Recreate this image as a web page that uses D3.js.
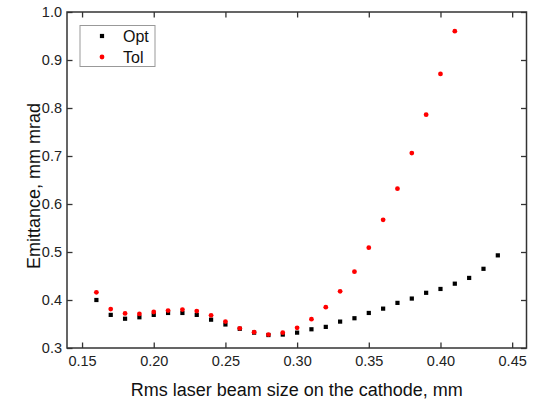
<!DOCTYPE html>
<html><head><meta charset="utf-8">
<script src="https://cdn.jsdelivr.net/npm/d3@7"></script>
<style>body{margin:0;background:#fff}svg{display:block;font-family:"Liberation Sans",Arial,sans-serif}</style>
</head><body>
<svg id="c" width="537" height="404"></svg>
<script>
const optX = [0.16,0.17,0.18,0.19,0.20,0.21,0.22,0.23,0.24,0.25,0.26,0.27,0.28,0.29,0.30,0.31,0.32,0.33,0.34,0.35,0.36,0.37,0.38,0.39,0.40,0.41,0.42,0.43,0.44];
const optY = [0.400,0.369,0.361,0.364,0.369,0.373,0.373,0.369,0.359,0.349,0.340,0.332,0.327,0.328,0.332,0.339,0.344,0.355,0.362,0.373,0.382,0.394,0.403,0.415,0.423,0.434,0.446,0.465,0.493];
const tolX = [0.16,0.17,0.18,0.19,0.20,0.21,0.22,0.23,0.24,0.25,0.26,0.27,0.28,0.29,0.30,0.31,0.32,0.33,0.34,0.35,0.36,0.37,0.38,0.39,0.40,0.41];
const tolY = [0.416,0.381,0.372,0.371,0.375,0.378,0.380,0.377,0.368,0.355,0.341,0.333,0.328,0.332,0.342,0.360,0.385,0.418,0.459,0.509,0.567,0.632,0.706,0.786,0.871,0.960];
const xTicks = [0.15,0.20,0.25,0.30,0.35,0.40,0.45];
const yTicks = [0.3,0.4,0.5,0.6,0.7,0.8,0.9,1.0];
const seriesNames = ["Opt","Tol"];
const seriesColors = ["#000000","#ff0000"];

const L=67,R=526.5,T=12,B=348;
const svg=d3.select("#c");
const x=d3.scaleLinear().domain([0.1395,0.46]).range([L,R]);
const y=d3.scaleLinear().domain([0.3,1.0]).range([B,T]);
const axisColor="#333";
const tk=5.5;

function styleAxis(g){g.select(".domain").remove();g.selectAll("line").attr("stroke",axisColor).attr("stroke-width",1.3);g.selectAll("text").attr("fill","#222").style("font-size","14.5px");}
svg.append("g").attr("transform",`translate(0,${B})`).call(d3.axisBottom(x).tickValues(xTicks).tickFormat(d3.format(".2f")).tickSizeInner(-tk).tickSizeOuter(0).tickPadding(8)).call(styleAxis);
svg.append("g").attr("transform",`translate(0,${T})`).call(d3.axisTop(x).tickValues(xTicks).tickFormat("").tickSizeInner(-tk).tickSizeOuter(0)).call(styleAxis);
svg.append("g").attr("transform",`translate(${L},0)`).call(d3.axisLeft(y).tickValues(yTicks).tickFormat(d3.format(".1f")).tickSizeInner(-tk).tickSizeOuter(0).tickPadding(5)).call(styleAxis);
svg.append("g").attr("transform",`translate(${R},0)`).call(d3.axisRight(y).tickValues(yTicks).tickFormat("").tickSizeInner(-tk).tickSizeOuter(0)).call(styleAxis);
svg.append("rect").attr("x",L).attr("y",T).attr("width",R-L).attr("height",B-T).attr("fill","none").attr("stroke",axisColor).attr("stroke-width",1.5);

const s=4.2;
svg.append("g").selectAll("rect").data(optX.map((d,i)=>[d,optY[i]])).join("rect")
 .attr("x",d=>x(d[0])-s/2).attr("y",d=>y(d[1])-s/2).attr("width",s).attr("height",s).attr("fill",seriesColors[0]);
svg.append("g").selectAll("circle").data(tolX.map((d,i)=>[d,tolY[i]])).join("circle")
 .attr("cx",d=>x(d[0])).attr("cy",d=>y(d[1])).attr("r",2.4).attr("fill",seriesColors[1]);

// legend
const lg=svg.append("g");
lg.append("rect").attr("x",80).attr("y",25.5).attr("width",75).attr("height",41).attr("fill","#fff").attr("stroke","#999").attr("stroke-width",1);
seriesNames.forEach((n,i)=>{
 const cy=36+i*21;
 if(i===0) lg.append("rect").attr("x",102-s/2).attr("y",cy-s/2).attr("width",s).attr("height",s).attr("fill",seriesColors[0]);
 else lg.append("circle").attr("cx",102).attr("cy",cy).attr("r",2.4).attr("fill",seriesColors[1]);
 lg.append("text").attr("x",123).attr("y",cy).attr("dy","0.35em").style("font-size","16px").attr("fill","#111").text(n);
});

svg.append("text").attr("x",(L+R)/2).attr("y",396).attr("text-anchor","middle").style("font-size","18px").attr("fill","#111").text("Rms laser beam size on the cathode, mm");
svg.append("text").attr("transform",`translate(40,186) rotate(-90)`).attr("text-anchor","middle").style("font-size","18px").attr("fill","#111").text("Emittance, mm mrad");
</script>
</body></html>
